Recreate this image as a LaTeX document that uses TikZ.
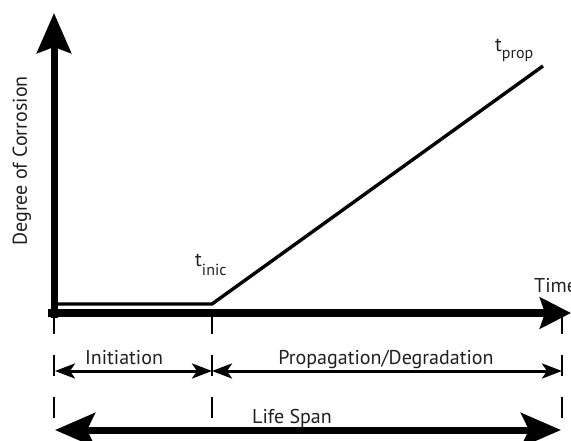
\documentclass[tikz,border=0pt]{standalone}
\usepackage{fontspec}
\setmainfont{PT Sans}
\usetikzlibrary{arrows.meta}
\definecolor{textgray}{rgb}{0.12,0.12,0.12}
\begin{document}
\begin{tikzpicture}[x=1pt,y=-1pt,
  yaxis/.style={line width=7pt,-{Stealth[length=40pt,width=34pt,inset=6pt]}},
  xaxis/.style={line width=8pt,-{Stealth[length=31pt,width=31pt,inset=5pt]}},
  phase/.style={line width=3pt,{Stealth[length=20pt,width=15pt,inset=5pt]}-{Stealth[length=20pt,width=15pt,inset=5pt]}},
  life/.style={line width=7pt,{Stealth[length=40pt,width=34pt,inset=8pt]}-{Stealth[length=40pt,width=34pt,inset=8pt]}},
  guide/.style={line width=1.8pt,dash pattern=on 21pt off 21pt},
  growth/.style={line width=3.4pt,line join=miter},
  lbl/.style={text=textgray,font=\fontsize{20}{24}\selectfont,inner sep=0pt}]
\useasboundingbox (0,0) rectangle (571,441);

% axes
\coordinate (ybot) at (54,318);
\coordinate (ytop) at (54,13);
\coordinate (xleft) at (48,313);
\coordinate (xright) at (571,313);

% corrosion curve
\coordinate (c0) at (54,304);
\coordinate (inic) at (212,304);
\coordinate (prop) at (543,66);

% guide lines below the time axis
\coordinate (g1t) at (54,313);
\coordinate (g1b) at (54,428);
\coordinate (g2t) at (212,313);
\coordinate (g2b) at (212,420);
\coordinate (g3t) at (562,313);
\coordinate (g3b) at (562,420);

% phase arrows
\coordinate (s1) at (55,371);
\coordinate (s2) at (212,371);
\coordinate (s3) at (562,371);
\coordinate (l1) at (55,430);
\coordinate (l2) at (561,430);

\draw[guide] (g1t) -- (g1b);
\draw[guide] (g2t) -- (g2b);
\draw[guide] (g3t) -- (g3b);

\draw[growth] (c0) -- (inic) -- (prop);

\draw[yaxis] (ybot) -- (ytop);
\draw[xaxis] (xleft) -- (xright);

\draw[phase] (s1) -- (s2);
\draw[phase] (s2) -- (s3);
\draw[life] (l1) -- (l2);

% labels
\node[lbl,rotate=90,anchor=base] (ylbl) at (27,161) {Degree of Corrosion};
\node[lbl,anchor=base west] (timelbl) at (534,292) {Time};
\node[lbl,anchor=base west] (tinic) at (195,267) {t\raisebox{-9pt}{\fontsize{16}{16}\selectfont inic}};
\node[lbl,anchor=base west] (tprop) at (495,52) {t\raisebox{-7pt}{\fontsize{16}{16}\selectfont prop}};
\node[lbl,anchor=base] (initlbl) at (124,364) {Initiation};
\node[lbl,anchor=base] (proplbl) at (386,364) {Propagation/Degradation};
\node[lbl,anchor=base] (lifelbl) at (292,423) {Life Span};
\end{tikzpicture}
\end{document}
